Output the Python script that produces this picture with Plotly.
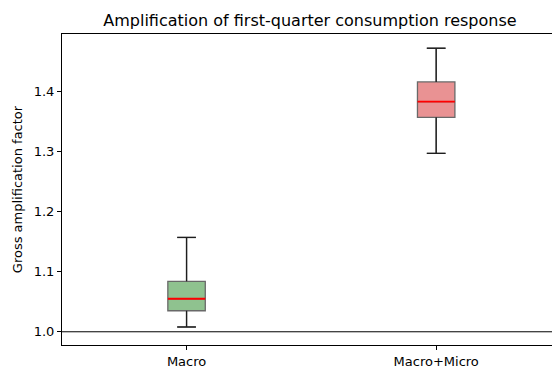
import plotly.graph_objects as go

# Summary statistics of the gross amplification factor per model
categories = ["Macro", "Macro+Micro"]
positions = [1, 2]
lower_whisker = [1.008, 1.297]
q1 = [1.035, 1.357]
median = [1.055, 1.383]
q3 = [1.084, 1.416]
upper_whisker = [1.157, 1.472]
baseline = 1.0

fills = ["rgb(143,194,143)", "rgb(233,146,147)"]
edge = "rgb(105,105,105)"
box_width = 0.15
cap_half = box_width / 4

fig = go.Figure()

for i, cat in enumerate(categories):
    x = positions[i]
    fig.add_trace(go.Box(
        x=[x], q1=[q1[i]], median=[median[i]], q3=[q3[i]],
        lowerfence=[lower_whisker[i]], upperfence=[upper_whisker[i]],
        width=box_width, whiskerwidth=0.5,
        fillcolor=fills[i], line=dict(color=edge, width=1.3),
        boxpoints=False, name=cat, hoverinfo="skip",
    ))
    # whiskers and caps in black
    fig.add_trace(go.Scatter(
        x=[x, x, None, x, x, None,
           x - cap_half, x + cap_half, None, x - cap_half, x + cap_half],
        y=[q3[i], upper_whisker[i], None, q1[i], lower_whisker[i], None,
           upper_whisker[i], upper_whisker[i], None, lower_whisker[i], lower_whisker[i]],
        mode="lines", line=dict(color="rgb(30,30,30)", width=1.3),
        hoverinfo="skip", showlegend=False,
    ))
    # median line
    fig.add_trace(go.Scatter(
        x=[x - box_width / 2, x + box_width / 2], y=[median[i], median[i]],
        mode="lines", line=dict(color="rgb(255,0,0)", width=1.8),
        hoverinfo="skip", showlegend=False,
    ))

fig.add_hline(y=baseline, line=dict(color="black", width=1), layer="below")

font = "DejaVu Sans"
fig.update_layout(
    width=552, height=369,
    margin=dict(l=62, r=0, t=34, b=22),
    paper_bgcolor="white", plot_bgcolor="white",
    showlegend=False,
    font=dict(family=font, size=13, color="black"),
    title=dict(text="Amplification of first-quarter consumption response",
               xref="paper", x=0.506, xanchor="center",
               yref="container", y=0.945, yanchor="middle",
               font=dict(family=font, size=16, color="black")),
    xaxis=dict(range=[0.501, 2.464], tickvals=positions, ticktext=categories,
               showgrid=False, zeroline=False, showline=True, linecolor="black",
               linewidth=1, mirror=True, ticks="outside", ticklen=4,
               tickcolor="black", tickfont=dict(size=13)),
    yaxis=dict(range=[0.978, 1.4957], tickvals=[1.0, 1.1, 1.2, 1.3, 1.4],
               tickformat=".1f", showgrid=False, zeroline=False, showline=True,
               linecolor="black", linewidth=1, ticks="outside", ticklen=4,
               tickcolor="black", tickfont=dict(size=13),
               title=dict(text="Gross amplification factor", standoff=8,
                          font=dict(size=13))),
)

fig.write_html("out.html")
